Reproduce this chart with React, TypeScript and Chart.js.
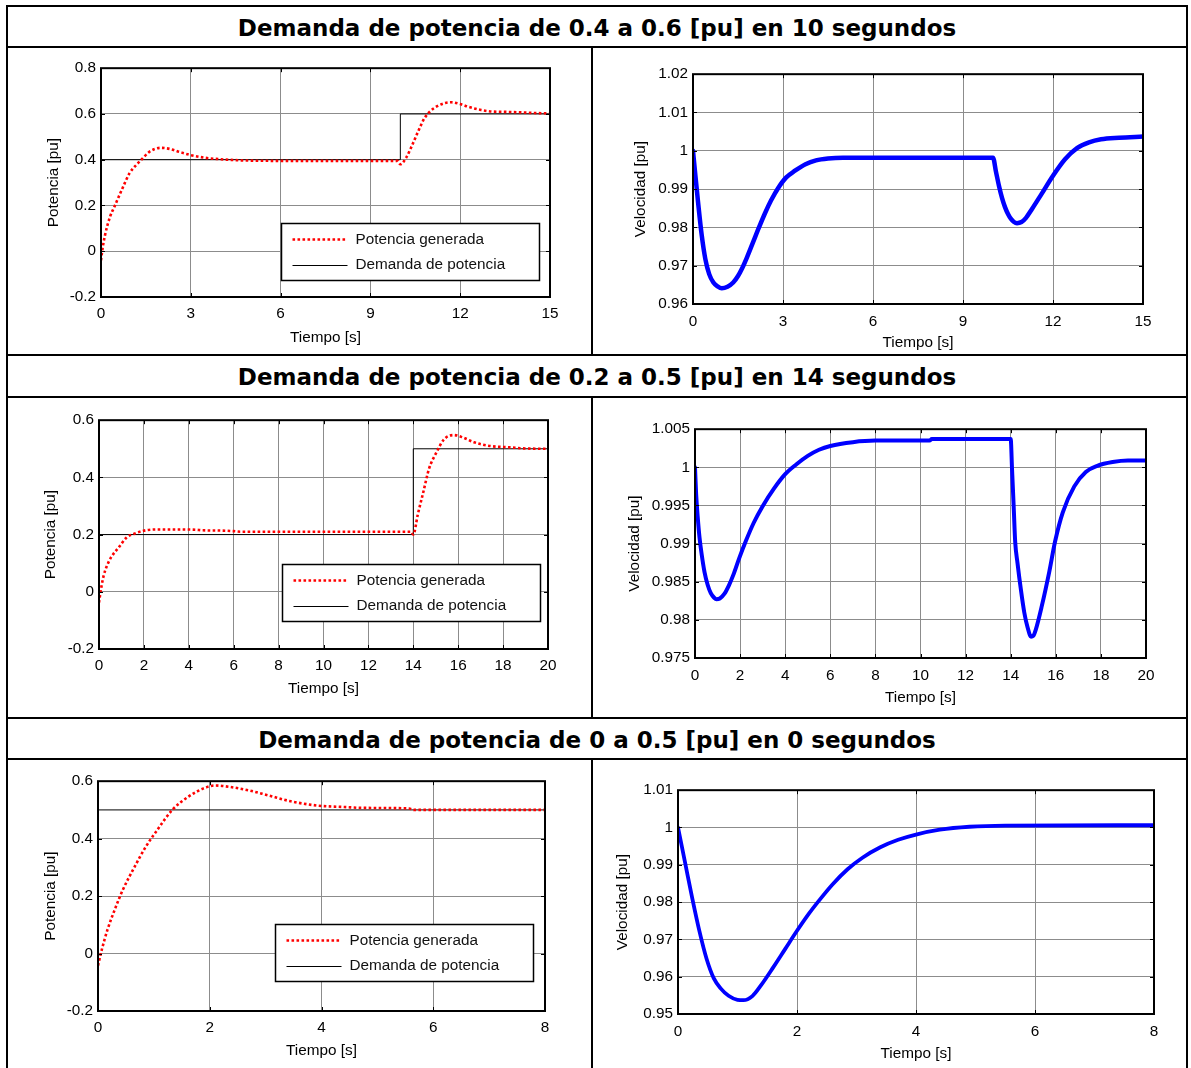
import React, { useEffect, useRef } from 'react';
import { Chart, registerables } from 'chart.js';
Chart.register(...registerables);

const FONT = "'Liberation Sans', Arial, sans-serif";
const FS = 15.3;

// ---------- Titles ----------
const rowTitles = [
  'Demanda de potencia de 0.4 a 0.6 [pu] en 10 segundos',
  'Demanda de potencia de 0.2 a 0.5 [pu] en 14 segundos',
  'Demanda de potencia de 0 a 0.5 [pu] en 0 segundos',
];
const legendLabels = ['Potencia generada', 'Demanda de potencia'];
const yTitlePower = 'Potencia [pu]';
const yTitleSpeed = 'Velocidad [pu]';
const xTitle = 'Tiempo [s]';

// ---------- Case 1 (0.4 -> 0.6 at 10 s) ----------
const c1Time = [0, 0.05, 0.13, 0.3, 0.45, 0.7, 0.95, 1.2, 1.35, 1.6, 1.8, 2.0, 2.3, 2.6, 3.0, 3.5, 4.0, 4.5, 5.0, 6.0, 7.0, 8.0, 9.0, 9.9, 10.0, 10.2, 10.4, 10.6, 10.8, 11.0, 11.25, 11.5, 11.7, 12.0, 12.3, 12.7, 13.0, 13.5, 14.0, 14.5, 15.0];
const c1Gen = [-0.04, 0.01, 0.068, 0.15, 0.195, 0.27, 0.34, 0.38, 0.4, 0.433, 0.447, 0.452, 0.447, 0.435, 0.42, 0.408, 0.402, 0.398, 0.396, 0.395, 0.395, 0.395, 0.395, 0.395, 0.38, 0.41, 0.465, 0.525, 0.58, 0.612, 0.635, 0.648, 0.651, 0.643, 0.63, 0.617, 0.611, 0.609, 0.607, 0.604, 0.602];
const c1DemTime = [0, 10, 10, 15];
const c1Dem = [0.4, 0.4, 0.6, 0.6];
const c1SpTime = [0, 0.08, 0.17, 0.29, 0.41, 0.54, 0.68, 0.82, 0.96, 1.15, 1.34, 1.5, 1.63, 1.8, 2.0, 2.2, 2.4, 2.6, 2.84, 3.1, 3.4, 3.75, 4.1, 4.5, 5.0, 7.5, 10.0, 10.1, 10.2, 10.3, 10.4, 10.5, 10.6, 10.7, 10.8, 10.95, 11.1, 11.3, 11.6, 12.0, 12.4, 12.8, 13.2, 13.6, 14.2, 15.0];
const c1Speed = [1.0, 0.9935, 0.9865, 0.978, 0.9718, 0.9678, 0.9656, 0.9646, 0.9641, 0.9645, 0.9656, 0.9673, 0.9692, 0.9722, 0.9761, 0.98, 0.9837, 0.987, 0.9903, 0.993, 0.9948, 0.9965, 0.9975, 0.998, 0.9982, 0.9982, 0.9982, 0.9945, 0.9908, 0.9877, 0.9853, 0.9835, 0.9822, 0.9814, 0.9811, 0.9814, 0.9825, 0.9848, 0.9885, 0.9935, 0.9978, 1.0007, 1.0022, 1.003, 1.0034, 1.0037];

// ---------- Case 2 (0.2 -> 0.5 at 14 s) ----------
const c2Time = [0, 0.07, 0.2, 0.37, 0.55, 0.89, 1.23, 1.57, 2.08, 2.7, 3.5, 4.3, 4.6, 5.5, 6.0, 6.3, 8.0, 10.0, 12.0, 13.9, 14.0, 14.2, 14.45, 14.7, 15.05, 15.37, 15.8, 16.2, 16.7, 17.4, 18.3, 19.0, 20.0];
const c2Gen = [-0.038, 0.0, 0.054, 0.094, 0.122, 0.156, 0.19, 0.203, 0.215, 0.218, 0.218, 0.217, 0.215, 0.214, 0.212, 0.21, 0.21, 0.21, 0.21, 0.21, 0.2, 0.27, 0.35, 0.43, 0.49, 0.533, 0.548, 0.54, 0.523, 0.51, 0.505, 0.501, 0.5];
const c2DemTime = [0, 14, 14, 20];
const c2Dem = [0.2, 0.2, 0.5, 0.5];
const c2SpTime = [0, 0.05, 0.12, 0.2, 0.3, 0.42, 0.56, 0.7, 0.85, 0.95, 1.1, 1.3, 1.5, 1.7, 1.95, 2.25, 2.6, 3.0, 3.5, 4.0, 4.5, 5.0, 5.5, 6.0, 7.0, 8.0, 10.4, 10.5, 14.0, 14.06, 14.13, 14.2, 14.3, 14.45, 14.6, 14.75, 14.9, 15.0, 15.11, 15.37, 15.71, 15.97, 16.31, 16.82, 17.33, 17.84, 18.52, 19.2, 20.0];
const c2Speed = [1.0, 0.9965, 0.9935, 0.9908, 0.9885, 0.9863, 0.9846, 0.9835, 0.9829, 0.9827, 0.9828, 0.9834, 0.9845, 0.9859, 0.988, 0.9903, 0.9927, 0.9949, 0.9972, 0.9991, 1.0004, 1.0015, 1.0023, 1.0028, 1.0033, 1.0035, 1.0035, 1.0037, 1.0037, 0.9997, 0.995, 0.9902, 0.9875, 0.984, 0.981, 0.979, 0.9778, 0.9779, 0.9787, 0.9817, 0.9863, 0.9903, 0.9941, 0.9975, 0.9994, 1.0002, 1.0007, 1.0009, 1.0009];

// ---------- Case 3 (0 -> 0.5 at 0 s) ----------
const c3Time = [0, 0.07, 0.17, 0.31, 0.44, 0.65, 0.85, 1.06, 1.33, 1.61, 1.88, 2.09, 2.36, 2.7, 3.04, 3.45, 3.93, 4.41, 4.75, 5.57, 5.65, 8.0];
const c3Gen = [-0.042, 0.015, 0.083, 0.158, 0.22, 0.3, 0.37, 0.43, 0.5, 0.545, 0.574, 0.585, 0.58, 0.568, 0.551, 0.53, 0.515, 0.51, 0.507, 0.505, 0.5, 0.5];
const c3DemTime = [0, 8];
const c3Dem = [0.5, 0.5];
const c3SpTime = [0, 0.12, 0.24, 0.36, 0.48, 0.6, 0.72, 0.85, 1.0, 1.1, 1.25, 1.4, 1.6, 1.8, 2.0, 2.2, 2.4, 2.6, 2.85, 3.1, 3.4, 3.7, 4.0, 4.4, 4.9, 5.5, 8.0];
const c3Speed = [1.0, 0.9905, 0.981, 0.9722, 0.9648, 0.9596, 0.9568, 0.9549, 0.9538, 0.9537, 0.9548, 0.9578, 0.9625, 0.9674, 0.9723, 0.9769, 0.981, 0.9848, 0.9888, 0.9919, 0.9947, 0.9967, 0.9981, 0.9994, 1.0002, 1.0005, 1.0006];

// ---------- Tick labels ----------
const xTicks15 = [0, 3, 6, 9, 12, 15];
const xTicks20 = [0, 2, 4, 6, 8, 10, 12, 14, 16, 18, 20];
const xTicks8 = [0, 2, 4, 6, 8];
const yTicksP1 = [-0.2, 0, 0.2, 0.4, 0.6, 0.8];
const yLabelsP1 = ['-0.2', '0', '0.2', '0.4', '0.6', '0.8'];
const yTicksP2 = [-0.2, 0, 0.2, 0.4, 0.6];
const yLabelsP2 = ['-0.2', '0', '0.2', '0.4', '0.6'];
const yTicksS1 = [0.96, 0.97, 0.98, 0.99, 1.0, 1.01, 1.02];
const yLabelsS1 = ['0.96', '0.97', '0.98', '0.99', '1', '1.01', '1.02'];
const yTicksS2 = [0.975, 0.98, 0.985, 0.99, 0.995, 1.0, 1.005];
const yLabelsS2 = ['0.975', '0.98', '0.985', '0.99', '0.995', '1', '1.005'];
const yTicksS3 = [0.95, 0.96, 0.97, 0.98, 0.99, 1.0, 1.01];
const yLabelsS3 = ['0.95', '0.96', '0.97', '0.98', '0.99', '1', '1.01'];

const toXY = (xs: number[], ys: number[]) => xs.map((x, i) => ({ x, y: ys[i] }));

const RED = '#ff0000';
const BLUE = '#0000ff';

function powerSets(t: number[], g: number[], dt: number[], d: number[]) {
  return [
    { label: legendLabels[0], data: toXY(t, g), borderColor: RED, borderWidth: 2.6, borderDash: [2.6, 2.4], pointRadius: 0, cubicInterpolationMode: 'monotone' },
    { label: legendLabels[1], data: toXY(dt, d), borderColor: '#000', borderWidth: 1, pointRadius: 0, tension: 0 },
  ];
}
function speedSets(t: number[], s: number[], w: number) {
  return [{ label: 'Velocidad', data: toXY(t, s), borderColor: BLUE, borderWidth: w, pointRadius: 0, cubicInterpolationMode: 'monotone', borderCapStyle: 'round', borderJoinStyle: 'round' }];
}

type Box = { l: number; t: number; r: number; b: number };
type Spec = {
  canvas: Box; plot: Box;
  xMin: number; xMax: number; xTicks: number[];
  yMin: number; yMax: number; yTicks: number[]; yLabels: string[];
  yTitle: string; datasets: any[];
  xPad: number; legend?: { right: number; bottom: number };
};

const specs: Spec[] = [
  { canvas: { l: 43, t: 54, r: 585, b: 348 }, plot: { l: 101, t: 64, r: 550, b: 297 }, xMin: 0, xMax: 15, xTicks: xTicks15, yMin: -0.2, yMax: 0.8, yTicks: yTicksP1, yLabels: yLabelsP1, yTitle: yTitlePower, datasets: powerSets(c1Time, c1Gen, c1DemTime, c1Dem), xPad: 8, legend: { right: 11, bottom: 17 } },
  { canvas: { l: 630, t: 60, r: 1180, b: 353 }, plot: { l: 693, t: 70, r: 1143, b: 304 }, xMin: 0, xMax: 15, xTicks: xTicks15, yMin: 0.96, yMax: 1.02, yTicks: yTicksS1, yLabels: yLabelsS1, yTitle: yTitleSpeed, datasets: speedSets(c1SpTime, c1Speed, 4.5), xPad: 9 },
  { canvas: { l: 40, t: 406, r: 585, b: 699 }, plot: { l: 99, t: 416, r: 548, b: 649 }, xMin: 0, xMax: 20, xTicks: xTicks20, yMin: -0.2, yMax: 0.6, yTicks: yTicksP2, yLabels: yLabelsP2, yTitle: yTitlePower, datasets: powerSets(c2Time, c2Gen, c2DemTime, c2Dem), xPad: 8, legend: { right: 8, bottom: 28 } },
  { canvas: { l: 624, t: 415, r: 1180, b: 708 }, plot: { l: 695, t: 425, r: 1146, b: 658 }, xMin: 0, xMax: 20, xTicks: xTicks20, yMin: 0.975, yMax: 1.005, yTicks: yTicksS2, yLabels: yLabelsS2, yTitle: yTitleSpeed, datasets: speedSets(c2SpTime, c2Speed, 4), xPad: 9 },
  { canvas: { l: 40, t: 767, r: 585, b: 1061 }, plot: { l: 98, t: 777, r: 545, b: 1011 }, xMin: 0, xMax: 8, xTicks: xTicks8, yMin: -0.2, yMax: 0.6, yTicks: yTicksP2, yLabels: yLabelsP2, yTitle: yTitlePower, datasets: powerSets(c3Time, c3Gen, c3DemTime, c3Dem), xPad: 8, legend: { right: 12, bottom: 30 } },
  { canvas: { l: 612, t: 776, r: 1180, b: 1064 }, plot: { l: 678, t: 786, r: 1154, b: 1014 }, xMin: 0, xMax: 8, xTicks: xTicks8, yMin: 0.95, yMax: 1.01, yTicks: yTicksS3, yLabels: yLabelsS3, yTitle: yTitleSpeed, datasets: speedSets(c3SpTime, c3Speed, 3.8), xPad: 9 },
];

function makeConfig(s: Spec): any {
  const yW = s.plot.l - s.canvas.l;
  const xH = s.canvas.b - s.plot.b;
  const padTop = s.plot.t - s.canvas.t;
  const padRight = s.canvas.r - s.plot.r;
  const font = { family: FONT, size: FS, lineHeight: 1.2 };
  const titleFont = { family: FONT, size: FS, lineHeight: 1.35 };

  const framePlugin = {
    id: 'matlabFrame',
    afterDatasetsDraw(chart: any) {
      if (!s.legend) return;
      const { ctx, chartArea: a } = chart;
      const w = 258, h = 57;
      const bx = Math.round(a.right - s.legend.right - w) + 0.5;
      const by = Math.round(a.bottom - s.legend.bottom - h) + 0.5;
      ctx.save();
      ctx.fillStyle = '#fff';
      ctx.fillRect(bx, by, w, h);
      ctx.strokeStyle = '#000';
      ctx.lineWidth = 1.5;
      ctx.strokeRect(bx, by, w, h);
      const rows = [by + 16, by + 41];
      ctx.beginPath();
      ctx.strokeStyle = RED; ctx.lineWidth = 2.6; ctx.setLineDash([2.6, 2.4]);
      ctx.moveTo(bx + 11, rows[0]); ctx.lineTo(bx + 66, rows[0]); ctx.stroke();
      ctx.setLineDash([]);
      ctx.beginPath();
      ctx.strokeStyle = '#000'; ctx.lineWidth = 1;
      ctx.moveTo(bx + 11, Math.round(rows[1]) + 0.5); ctx.lineTo(bx + 66, Math.round(rows[1]) + 0.5); ctx.stroke();
      ctx.fillStyle = '#111';
      ctx.font = `${FS}px ${FONT}`;
      ctx.textBaseline = 'middle';
      ctx.textAlign = 'left';
      ctx.fillText(legendLabels[0], bx + 74, rows[0]);
      ctx.fillText(legendLabels[1], bx + 74, rows[1]);
      ctx.restore();
    },
    afterDraw(chart: any) {
      const { ctx, chartArea: a, scales } = chart;
      const tl = 4;
      ctx.save();
      ctx.strokeStyle = '#000';
      ctx.lineWidth = 1;
      ctx.beginPath();
      scales.x.ticks.forEach((t: any) => {
        const px = Math.round(scales.x.getPixelForValue(t.value)) + 0.5;
        ctx.moveTo(px, a.bottom); ctx.lineTo(px, a.bottom - tl);
        ctx.moveTo(px, a.top); ctx.lineTo(px, a.top + tl);
      });
      scales.y.ticks.forEach((t: any) => {
        const py = Math.round(scales.y.getPixelForValue(t.value)) + 0.5;
        ctx.moveTo(a.left, py); ctx.lineTo(a.left + tl, py);
        ctx.moveTo(a.right, py); ctx.lineTo(a.right - tl, py);
      });
      ctx.stroke();
      ctx.lineWidth = 2;
      ctx.strokeRect(a.left, a.top, a.right - a.left, a.bottom - a.top);
      ctx.restore();
    },
  };

  return {
    type: 'line',
    data: { datasets: s.datasets },
    options: {
      animation: false,
      responsive: false,
      maintainAspectRatio: false,
      layout: { padding: { top: padTop, right: padRight, left: 0, bottom: 0 } },
      plugins: { legend: { display: false }, tooltip: { enabled: false } },
      scales: {
        x: {
          type: 'linear', min: s.xMin, max: s.xMax,
          afterBuildTicks: (sc: any) => { sc.ticks = s.xTicks.map((v) => ({ value: v })); },
          afterFit: (sc: any) => { sc.height = xH; },
          ticks: { color: '#000', font, padding: s.xPad, autoSkip: false, maxRotation: 0, callback: (v: number) => String(v) },
          grid: { color: '#8c8c8c', lineWidth: 1, drawTicks: false },
          border: { display: false },
          title: { display: true, text: xTitle, color: '#000', font: titleFont, padding: 0 },
        },
        y: {
          type: 'linear', min: s.yMin, max: s.yMax,
          afterBuildTicks: (sc: any) => { sc.ticks = s.yTicks.map((v) => ({ value: v })); },
          afterFit: (sc: any) => { sc.width = yW; },
          ticks: { color: '#000', font, padding: 5, autoSkip: false, callback: (_v: number, i: number) => s.yLabels[i] },
          grid: { color: '#8c8c8c', lineWidth: 1, drawTicks: false },
          border: { display: false },
          title: { display: true, text: s.yTitle, color: '#000', font: titleFont, padding: 0 },
        },
      },
    },
    plugins: [framePlugin],
  };
}

function Plot({ spec }: { spec: Spec }) {
  const ref = useRef<HTMLCanvasElement>(null);
  useEffect(() => {
    if (!ref.current) return;
    const chart = new Chart(ref.current, makeConfig(spec));
    return () => chart.destroy();
  }, [spec]);
  const w = spec.canvas.r - spec.canvas.l;
  const h = spec.canvas.b - spec.canvas.t;
  return (
    <canvas
      ref={ref}
      width={w}
      height={h}
      style={{ position: 'absolute', left: spec.canvas.l, top: spec.canvas.t, width: w, height: h, display: 'block' }}
    />
  );
}

const hLines = [5, 46, 354, 396, 717, 758];
const vSegments = [
  { top: 47, bottom: 355 },
  { top: 397, bottom: 718 },
  { top: 759, bottom: 1070 },
];
const titleRows = [
  { top: 8, bottom: 47 },
  { top: 357, bottom: 397 },
  { top: 720, bottom: 759 },
];

export default function App() {
  return (
    <div style={{ position: 'absolute', left: 0, top: 0, width: 1191, height: 1068, background: '#fff', overflow: 'hidden' }}>
      {hLines.map((y, i) => (
        <div key={'h' + i} style={{ position: 'absolute', left: 6, top: y, width: 1182, height: 2, background: '#000' }} />
      ))}
      <div style={{ position: 'absolute', left: 6, top: 5, width: 2, height: 1070, background: '#000' }} />
      <div style={{ position: 'absolute', left: 1186, top: 5, width: 2, height: 1070, background: '#000' }} />
      {vSegments.map((s, i) => (
        <div key={'v' + i} style={{ position: 'absolute', left: 591, top: s.top, width: 2, height: s.bottom - s.top, background: '#000' }} />
      ))}
      {titleRows.map((r, i) => (
        <div
          key={'t' + i}
          style={{
            position: 'absolute', left: 8, width: 1178, top: r.top, height: r.bottom - r.top,
            display: 'flex', alignItems: 'center', justifyContent: 'center',
            fontFamily: "'DejaVu Sans', 'Open Sans', sans-serif", fontWeight: 700, fontSize: 23, color: '#000',
            whiteSpace: 'nowrap',
          }}
        >
          {rowTitles[i]}
        </div>
      ))}
      {specs.map((s, i) => (
        <Plot key={i} spec={s} />
      ))}
    </div>
  );
}
